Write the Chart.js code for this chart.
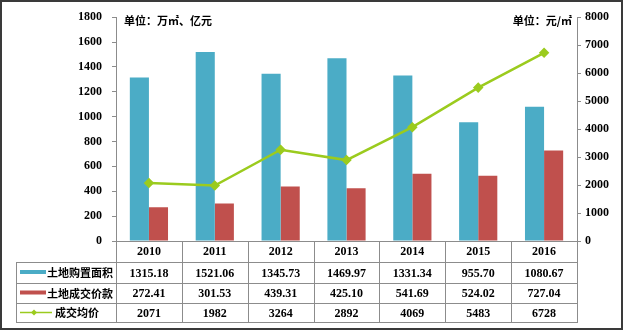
<!DOCTYPE html>
<html>
<head>
<meta charset="utf-8">
<script src="https://cdn.jsdelivr.net/npm/chart.js@4/dist/chart.umd.min.js"></script>
<style>
html,body{margin:0;padding:0;background:#fff;}
#wrap{position:relative;width:624px;height:332px;}
</style>
</head>
<body>
<div id="wrap"><canvas id="c" width="624" height="332"></canvas></div>
<script>
// ---- data ----
const years = ['2010','2011','2012','2013','2014','2015','2016'];
const landArea = [1315.18, 1521.06, 1345.73, 1469.97, 1331.34, 955.70, 1080.67];
const landPrice = [272.41, 301.53, 439.31, 425.10, 541.69, 524.02, 727.04];
const avgPrice = [2071, 1982, 3264, 2892, 4069, 5483, 6728];
const seriesNames = ['土地购置面积', '土地成交价款', '成交均价'];
const unitLeft = '单位：万㎡、亿元';
const unitRight = '单位：元/㎡';

const BLUE = '#4BACC6', RED = '#C0504D', GREEN = '#9BCB1E';
const GRID = '#8C8C8C';
const NUMFONT = 'bold 12px "Liberation Serif", "DejaVu Serif", serif';
const CJKFONT = 'bold 11px "Noto Sans CJK SC", sans-serif';

const tablePlugin = {
  id: 'tablePlugin',
  afterDraw(chart) {
    const ctx = chart.ctx;
    const ca = chart.chartArea;
    const n = years.length;
    const colW = (ca.right - ca.left) / n;
    const tableLeft = 16;
    const rows = [ca.bottom, ca.bottom + 21, ca.bottom + 42, ca.bottom + 62, ca.bottom + 81];
    ctx.save();
    ctx.strokeStyle = GRID;
    ctx.lineWidth = 1;
    for (let i = 0; i <= n; i++) {
      const x = Math.round(ca.left + i * colW) + 0.5;
      ctx.beginPath();
      ctx.moveTo(x, rows[0]);
      ctx.lineTo(x, rows[4]);
      ctx.stroke();
    }
    ctx.beginPath();
    ctx.moveTo(tableLeft + 0.5, rows[1]);
    ctx.lineTo(tableLeft + 0.5, rows[4]);
    ctx.stroke();
    for (let r = 1; r <= 4; r++) {
      const y = Math.round(rows[r]) + 0.5;
      ctx.beginPath();
      ctx.moveTo(tableLeft, y);
      ctx.lineTo(Math.round(ca.right) + 1, y);
      ctx.stroke();
    }
    ctx.fillStyle = '#000';
    ctx.font = NUMFONT;
    ctx.textAlign = 'center';
    ctx.textBaseline = 'middle';
    const rowVals = [landArea.map(v => v.toFixed(2)), landPrice.map(v => v.toFixed(2)), avgPrice.map(v => String(v))];
    for (let r = 0; r < 3; r++) {
      const yc = (rows[r + 1] + rows[r + 2]) / 2 + 1;
      for (let i = 0; i < n; i++) {
        const xc = ca.left + (i + 0.5) * colW;
        ctx.fillText(rowVals[r][i], xc, yc);
      }
    }
    const y1 = (rows[1] + rows[2]) / 2, y2 = (rows[2] + rows[3]) / 2, y3 = (rows[3] + rows[4]) / 2;
    ctx.fillStyle = BLUE;
    ctx.fillRect(20, y1 - 2.5, 26, 4);
    ctx.fillStyle = RED;
    ctx.fillRect(20, y2 - 2.5, 26, 4);
    ctx.strokeStyle = GREEN;
    ctx.lineWidth = 1.5;
    ctx.beginPath();
    ctx.moveTo(20, y3);
    ctx.lineTo(52, y3);
    ctx.stroke();
    ctx.fillStyle = GREEN;
    ctx.beginPath();
    ctx.moveTo(34, y3 - 3); ctx.lineTo(37, y3); ctx.lineTo(34, y3 + 3); ctx.lineTo(31, y3);
    ctx.closePath(); ctx.fill();
    ctx.fillStyle = '#000';
    ctx.font = CJKFONT;
    ctx.textAlign = 'left';
    ctx.fillText(seriesNames[0], 47, y1 + 0.5);
    ctx.fillText(seriesNames[1], 47, y2 + 0.5);
    ctx.fillText(seriesNames[2], 55, y3 + 0.5);
    ctx.fillText(unitLeft, 124, ca.top + 4);
    ctx.textAlign = 'right';
    ctx.fillText(unitRight, 572, ca.top + 4);
    ctx.strokeStyle = '#3A3A3A';
    ctx.lineWidth = 2;
    ctx.strokeRect(1, 1, 621, 328);
    ctx.restore();
  }
};

const plain = v => String(v);

new Chart(document.getElementById('c'), {
  data: {
    labels: years,
    datasets: [
      { type: 'line', label: seriesNames[2], data: avgPrice, yAxisID: 'y1', order: 0,
        borderColor: GREEN, backgroundColor: GREEN, borderWidth: 2.5,
        pointStyle: 'rectRot', pointRadius: 3.5, pointBackgroundColor: GREEN, pointBorderColor: GREEN, tension: 0 },
      { type: 'bar', label: seriesNames[0], data: landArea, yAxisID: 'y', order: 1,
        backgroundColor: BLUE, barPercentage: 1, categoryPercentage: 0.58 },
      { type: 'bar', label: seriesNames[1], data: landPrice, yAxisID: 'y', order: 1,
        backgroundColor: RED, barPercentage: 1, categoryPercentage: 0.58 }
    ]
  },
  options: {
    responsive: false,
    animation: false,
    devicePixelRatio: 1,
    layout: { padding: { top: 11, left: 0, right: 0, bottom: 0 } },
    plugins: { legend: { display: false }, tooltip: { enabled: false } },
    scales: {
      x: {
        offset: true,
        grid: { display: false, drawTicks: false, tickLength: 0 },
        border: { display: true, color: GRID, width: 1 },
        ticks: { color: '#000', font: { family: '"Liberation Serif", serif', size: 12, weight: 'bold' }, padding: 4, maxRotation: 0 },
        afterFit(s) { s.height = 91; }
      },
      y: {
        position: 'left', min: 0, max: 1800,
        grid: { drawOnChartArea: false, drawTicks: true, tickLength: 4, color: GRID },
        border: { display: true, color: GRID, width: 1 },
        ticks: { stepSize: 200, color: '#000', padding: 10, callback: plain, font: { family: '"Liberation Serif", serif', size: 12, weight: 'bold' } },
        afterFit(s) { s.width = 116; }
      },
      y1: {
        position: 'right', min: 0, max: 8000,
        grid: { drawOnChartArea: false, drawTicks: true, tickLength: 4, color: GRID },
        border: { display: true, color: GRID, width: 1 },
        ticks: { stepSize: 1000, color: '#000', padding: 4, callback: plain, font: { family: '"Liberation Serif", serif', size: 12, weight: 'bold' } },
        afterFit(s) { s.width = 47; }
      }
    }
  },
  plugins: [tablePlugin]
});
</script>
</body>
</html>
